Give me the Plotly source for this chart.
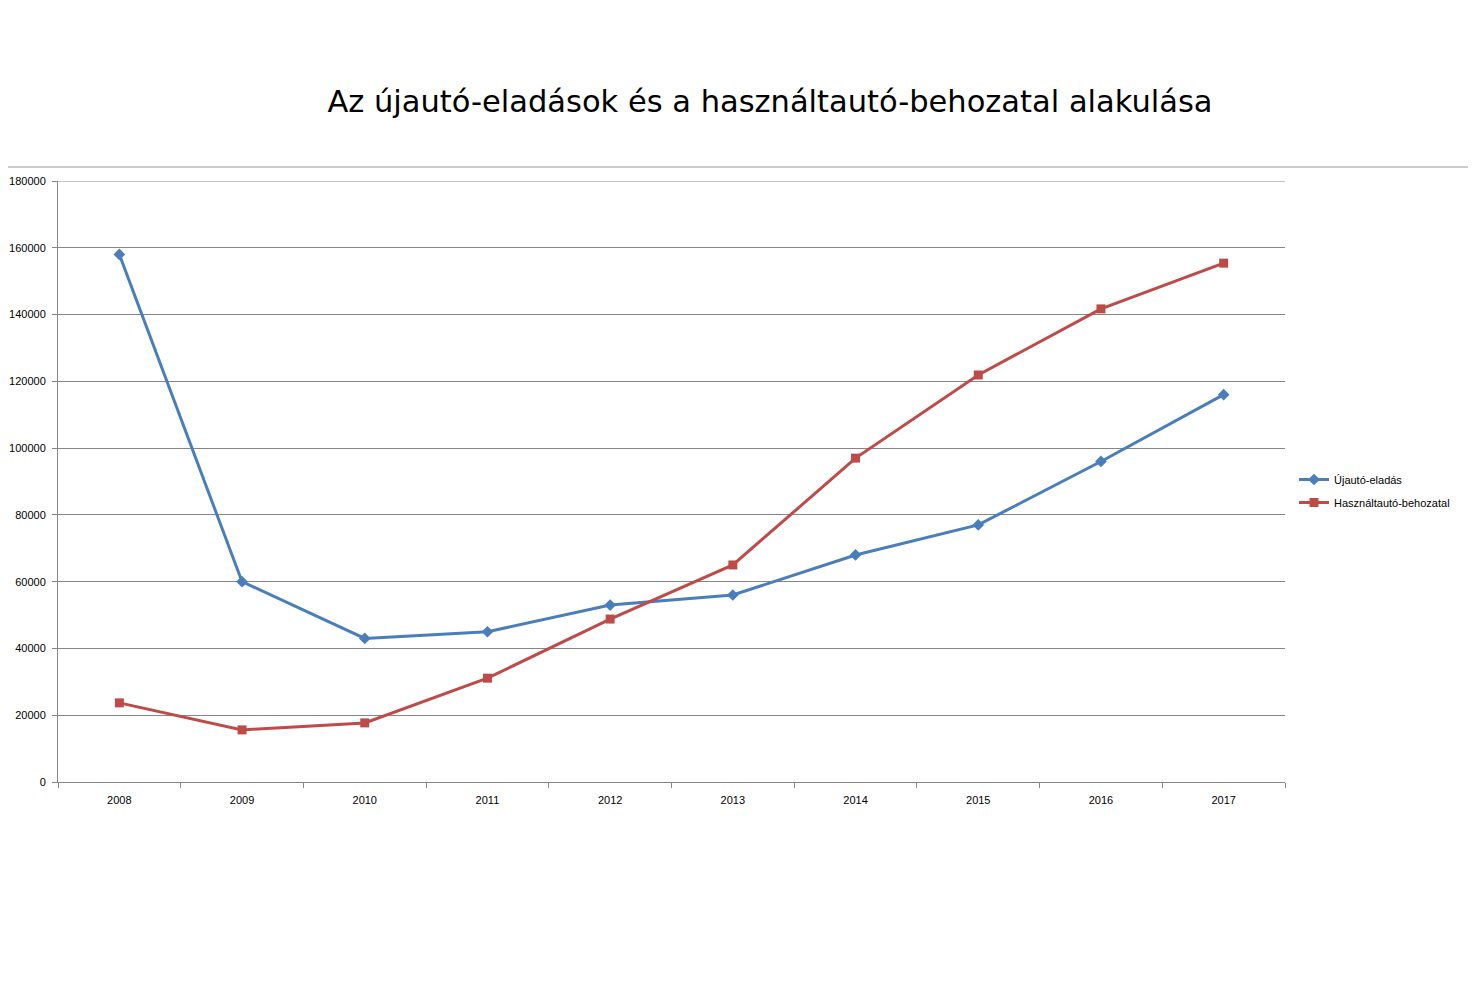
import plotly.graph_objects as go

# Data
years = ["2008", "2009", "2010", "2011", "2012", "2013", "2014", "2015", "2016", "2017"]
ujauto_eladas = [158000, 60000, 43000, 45000, 53000, 56000, 68000, 77000, 96000, 116000]
hasznaltauto_behozatal = [23700, 15600, 17700, 31100, 48800, 65000, 97000, 121900, 141700, 155400]

BLUE = "#4A7EBB"
RED = "#BE4B48"
GRID = "#868686"

# page has an 8px body margin, so work in figure coordinates
OFF = 8
W, H = 1476 - OFF, 984 - OFF

fig = go.Figure()

fig.add_trace(go.Scatter(
    x=years, y=ujauto_eladas, name="Újautó-eladás",
    mode="lines+markers", legendgroup="uj",
    line=dict(color=BLUE, width=3),
    marker=dict(symbol="diamond", size=9, color=BLUE)
))

fig.add_trace(go.Scatter(
    x=years, y=hasznaltauto_behozatal, name="Használtautó-behozatal",
    mode="lines+markers", legendgroup="hasznalt",
    line=dict(color=RED, width=3),
    marker=dict(symbol="square", size=9, color=RED)
))

plot_left, plot_right = 58 - OFF, 1285 - OFF
plot_top, plot_bottom = 181 - OFF, 782 - OFF
pw = plot_right - plot_left
ph = plot_bottom - plot_top

# top gridline (plotly hides the one on the range edge)
fig.add_hline(y=180000, line=dict(color=GRID, width=1), layer="below")

# thin separator line across the page under the title
sep_y = (plot_bottom - (167 - OFF)) / ph
fig.add_shape(
    type="line", xref="paper", yref="paper",
    x0=-plot_left / pw, x1=(W - plot_left) / pw,
    y0=sep_y, y1=sep_y,
    line=dict(color="#9a9a9a", width=1)
)

fig.update_layout(
    width=W, height=H,
    margin=dict(l=plot_left, r=W - plot_right, t=plot_top, b=H - plot_bottom,
                autoexpand=False),
    paper_bgcolor="white",
    plot_bgcolor="white",
    title=dict(
        text="Az újautó-eladások és a használtautó-behozatal alakulása",
        x=(770 - OFF) / W, xanchor="center",
        y=1 - (101 - OFF) / H, yanchor="middle",
        font=dict(family="DejaVu Sans", size=30.5, color="black")
    ),
    font=dict(family="Liberation Sans", size=11, color="black"),
    showlegend=True,
    legend=dict(
        x=(1294 - OFF - plot_left) / pw, xanchor="left",
        y=(plot_bottom - (491 - OFF)) / ph, yanchor="middle",
        font=dict(family="Liberation Sans", size=11, color="black"),
        tracegroupgap=4,
        bgcolor="rgba(0,0,0,0)"
    ),
    xaxis=dict(
        type="category",
        range=[-0.5, 9.5],
        automargin=False,
        showgrid=False,
        showline=True, linecolor=GRID, linewidth=1,
        ticks="outside", tickson="boundaries", ticklen=5, tickcolor=GRID,
        ticklabelstandoff=8,
        tickfont=dict(size=11, color="black"),
        fixedrange=True
    ),
    yaxis=dict(
        range=[0, 180000],
        dtick=20000,
        tickformat="d",
        automargin=False,
        showgrid=True, gridcolor=GRID, gridwidth=1,
        showline=True, linecolor=GRID, linewidth=1,
        ticks="outside", ticklen=5, tickcolor=GRID,
        ticklabelstandoff=4,
        tickfont=dict(size=11, color="black"),
        zeroline=False
    )
)

fig.write_html("out.html")
